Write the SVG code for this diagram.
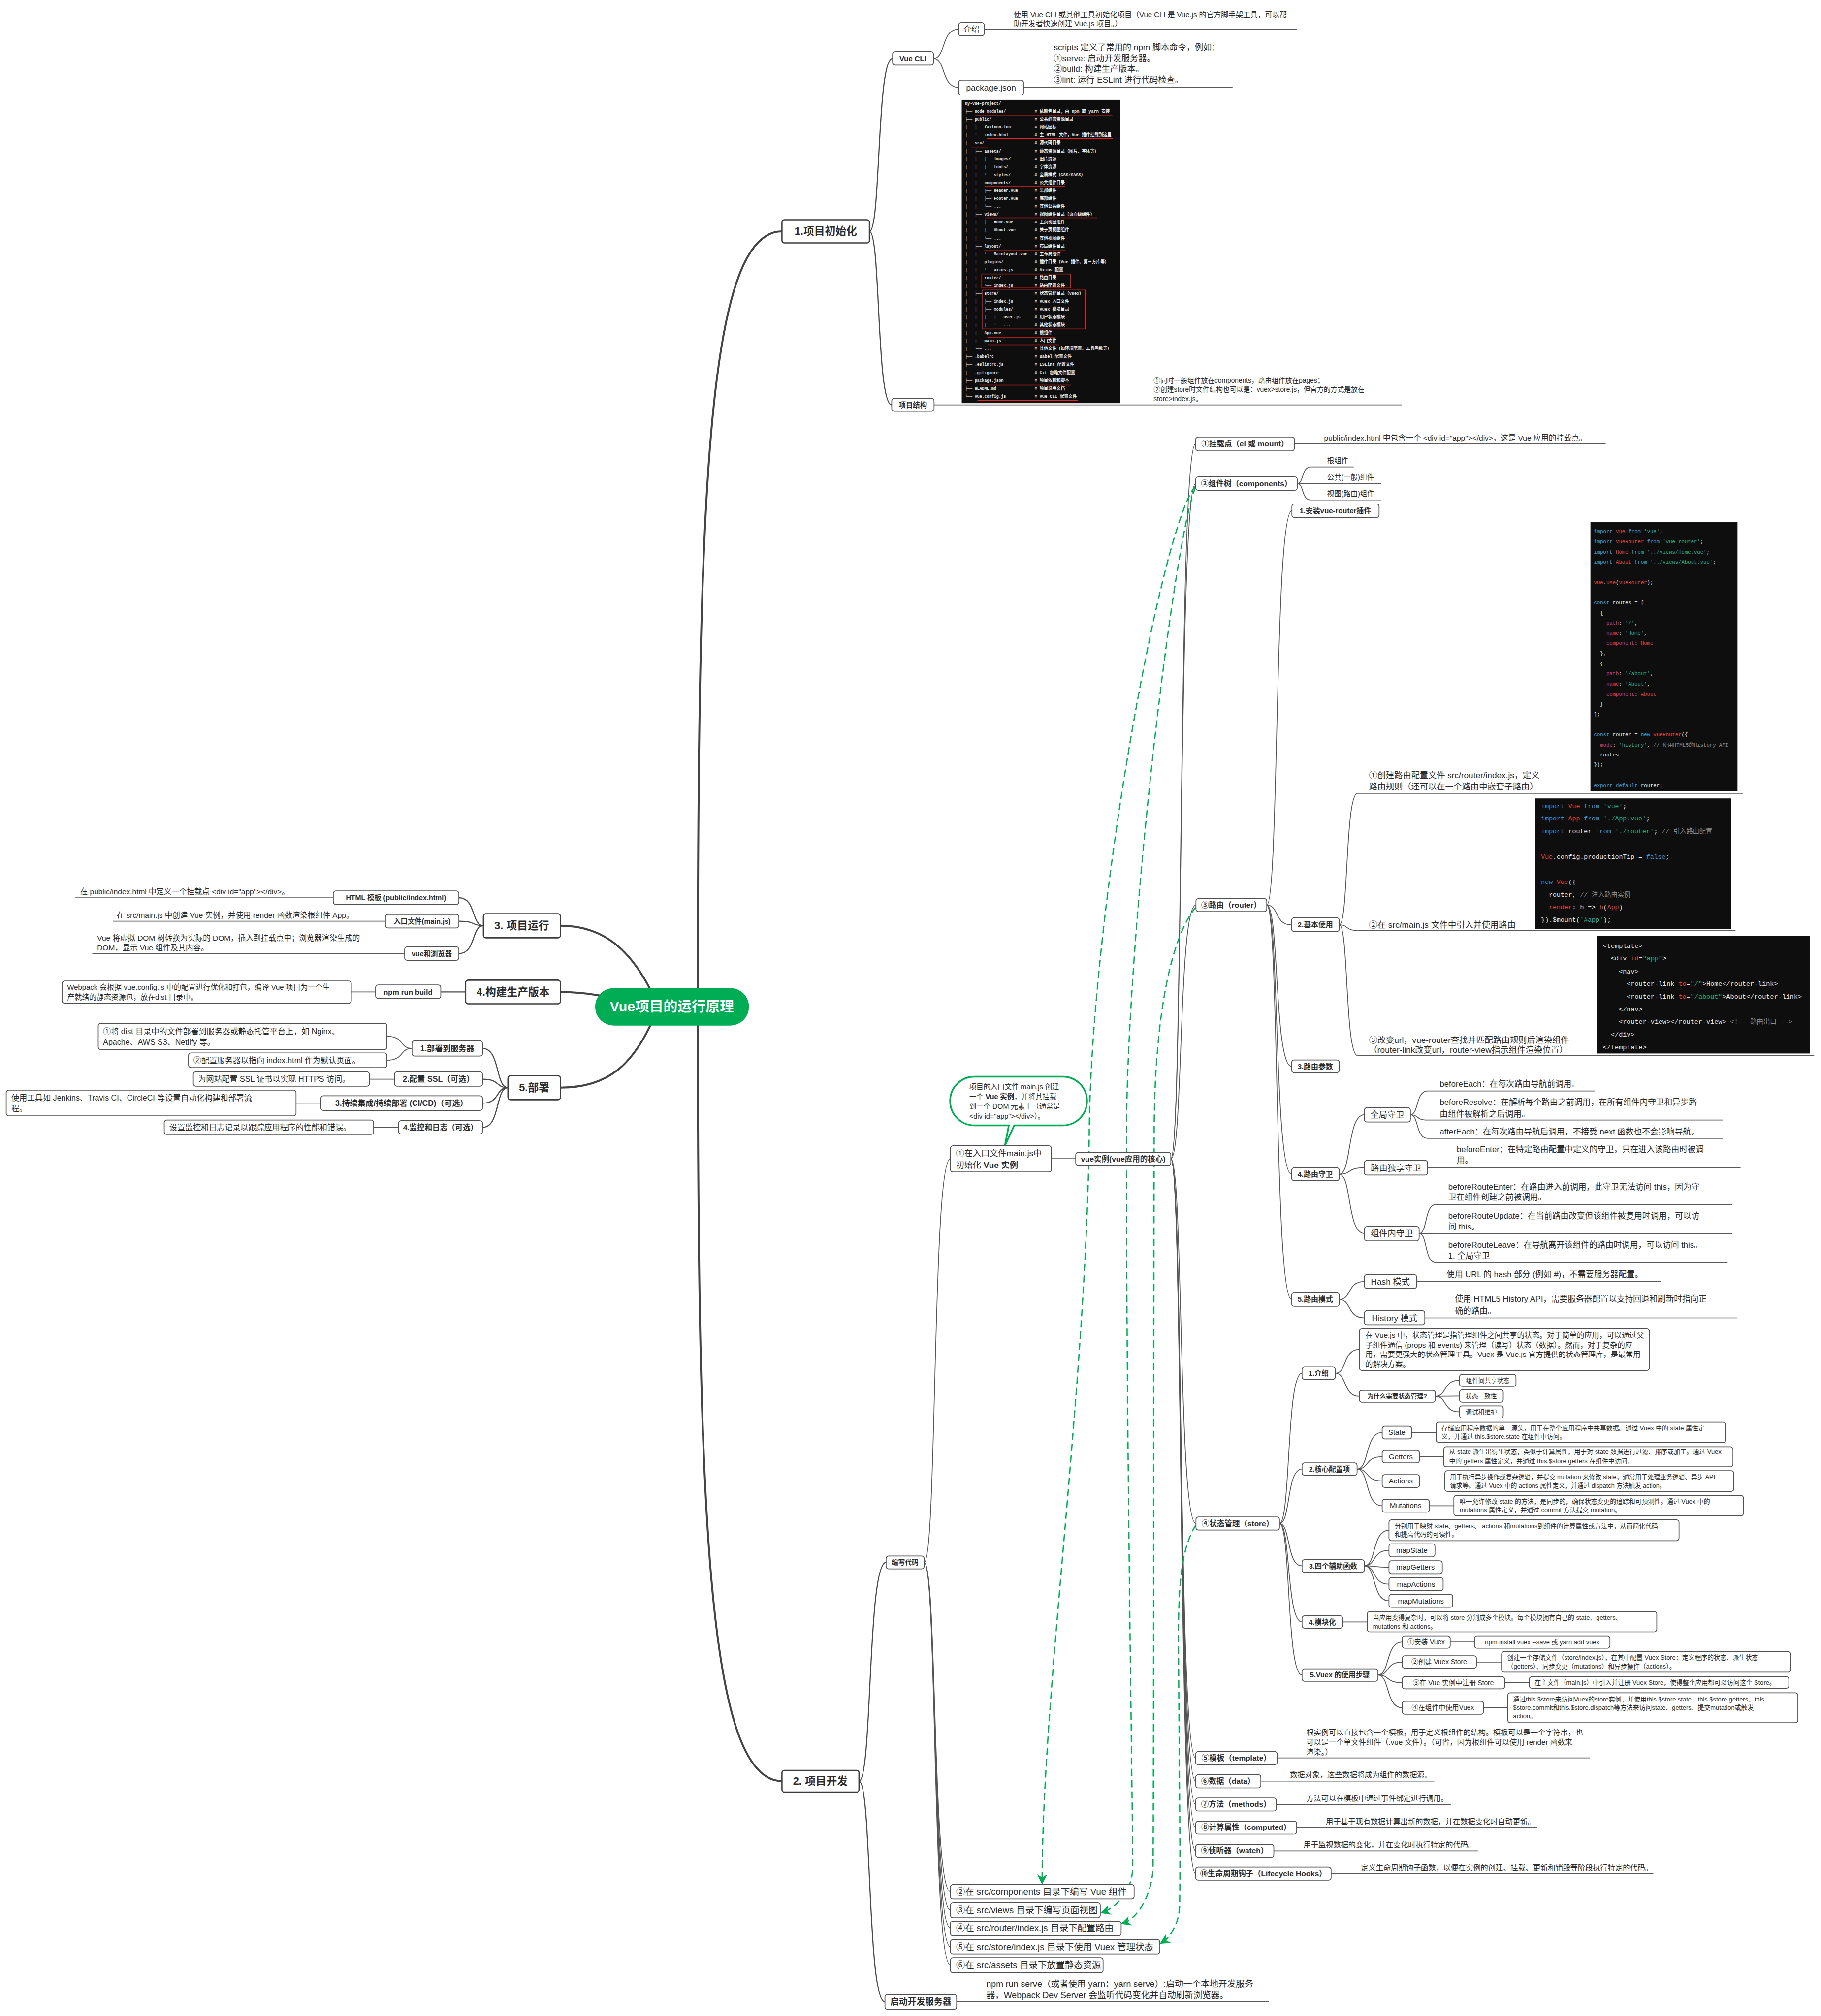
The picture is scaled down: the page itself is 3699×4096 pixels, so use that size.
<svg xmlns="http://www.w3.org/2000/svg" width="3699" height="4096" viewBox="0 0 3699 4096">
<defs>
<style>
text{font-family:"Liberation Sans","Noto Sans CJK SC",sans-serif;fill:#2b2b2b}
.b{font-weight:700}
.m{text-anchor:middle}
.bx{fill:#fff;stroke:#505050;stroke-width:3}
.bx1{fill:#fff;stroke:#3c3c3c;stroke-width:4.5}
.c1{fill:none;stroke:#444;stroke-width:7;stroke-linecap:round}
.c2{fill:none;stroke:#4a4a4a;stroke-width:4}
.c3{fill:none;stroke:#555;stroke-width:3}
.ul{fill:none;stroke:#5a5a5a;stroke-width:3}
.dg{fill:none;stroke:#00AD55;stroke-width:4.5;stroke-dasharray:26 14;marker-end:url(#arr)}
.img{fill:#0e0e0e}
.cd{font-family:"Liberation Mono","DejaVu Sans Mono","Noto Sans CJK SC",monospace;white-space:pre;fill:#e6e6e6}
.tr{font-size:14.2px;font-weight:700;fill:#e8e8e8}
.tc{font-size:15px;font-weight:700;fill:#e8e8e8}
.k{fill:#3b9ad9}.i{fill:#e5433b}.s{fill:#1fae8c}.p{fill:#dc3a72}.g{fill:#8a8a8a}.w{fill:#e6e6e6}
.red{fill:none;stroke:#e02424;stroke-width:2.5}
.f22{font-size:22px}.f225{font-size:22.5px}.f23{font-size:23px}.f24{font-size:24px}.f25{font-size:25px}.f26{font-size:26px}.f265{font-size:26.5px}.f27{font-size:27px}.f28{font-size:28px}.f29{font-size:29px}.f30{font-size:30px}.f31{font-size:31px}.f32{font-size:32px}.f38{font-size:38px}
.c18{font-size:18.5px}.c23{font-size:23px}.c235{font-size:23.5px}
</style>
<marker id="arr" viewBox="0 0 10 10" refX="8" refY="5" markerWidth="36" markerHeight="36" markerUnits="userSpaceOnUse" orient="auto"><path d="M0,0 L10,5 L0,10 L3,5 Z" fill="#00AD55"/></marker>
</defs>
<rect x="0" y="0" width="3699" height="4096" fill="#fff"/>
<g transform="scale(0.57322)">

<g id="connectors">
<path class="c1" d="M2473,3560 C2473,1800 2500,820 2771,820"/>
<path class="c1" d="M2473,3580 C2473,5300 2500,6313 2771,6313"/>
<path class="c1" d="M2330,3560 C2250,3380 2150,3281 1986,3281"/>
<path class="c1" d="M2300,3568 C2150,3530 2080,3516 1986,3516"/>
<path class="c1" d="M2330,3576 C2250,3780 2150,3855 1986,3855"/>

<path class="c2" d="M3081,820 C3122,820 3106,207 3163,207"/>
<path class="c2" d="M3081,820 C3121,820 3105,1435 3160,1435"/>
<path class="c2" d="M1713,3281 C1670,3281 1687,3182 1626,3182"/>
<path class="c2" d="M1713,3281 C1670,3281 1687,3265 1626,3265"/>
<path class="c2" d="M1713,3281 C1670,3281 1687,3380 1626,3380"/>
<path class="c2" d="M1650,3516 L1562,3516"/>
<path class="c2" d="M1800,3855 C1755,3855 1773,3716 1710,3716"/>
<path class="c2" d="M1800,3855 C1755,3855 1773,3825 1710,3825"/>
<path class="c2" d="M1800,3855 C1755,3855 1773,3910 1710,3910"/>
<path class="c2" d="M1800,3855 C1755,3855 1773,3996 1710,3996"/>
<path class="c2" d="M3044,6313 C3092,6313 3073,5538 3140,5538"/>
<path class="c2" d="M3044,6313 C3090,6313 3072,7095 3136,7095"/>

<path class="c3" d="M3308,207 C3352,207 3335,103 3397,103"/>
<path class="c3" d="M3308,207 C3352,207 3335,310 3397,310"/>
<path class="c3" d="M1331,3516 L1245,3516"/>
<path class="c3" d="M1460,3716 C1415,3716 1433,3673 1371,3673"/>
<path class="c3" d="M1460,3716 C1415,3716 1433,3758 1371,3758"/>
<path class="c3" d="M1398,3825 L1309,3825"/>
<path class="c3" d="M1137,3910 L1049,3910"/>
<path class="c3" d="M1412,3996 L1324,3996"/>

<path class="c3" d="M3275,5538 C3321,5538 3303,4107 3368,4107"/>
<path class="c3" d="M3275,5538 C3321,5538 3303,6705 3368,6705"/>
<path class="c3" d="M3275,5538 C3321,5538 3303,6770 3368,6770"/>
<path class="c3" d="M3275,5538 C3321,5538 3303,6835 3368,6835"/>
<path class="c3" d="M3275,5538 C3321,5538 3303,6900 3368,6900"/>
<path class="c3" d="M3275,5538 C3321,5538 3303,6966 3368,6966"/>
<path class="c3" d="M3726,4107 L3812,4107"/>

<path class="c3" d="M4149,4107 C4193,4107 4175,1573 4237,1573"/>
<path class="c3" d="M4149,4107 C4193,4107 4175,1714 4237,1714"/>
<path class="c3" d="M4149,4107 C4193,4107 4175,3208 4238,3208"/>
<path class="c3" d="M4149,4107 C4193,4107 4175,5400 4238,5400"/>
<path class="c3" d="M4149,4107 C4193,4107 4175,6231 4237,6231"/>
<path class="c3" d="M4149,4107 C4193,4107 4175,6313 4237,6313"/>
<path class="c3" d="M4149,4107 C4193,4107 4175,6396 4237,6396"/>
<path class="c3" d="M4149,4107 C4193,4107 4175,6478 4237,6478"/>
<path class="c3" d="M4149,4107 C4193,4107 4175,6560 4237,6560"/>
<path class="c3" d="M4149,4107 C4193,4107 4175,6641 4237,6641"/>

<path class="c3" d="M4597,1714 C4621,1714 4611,1655 4645,1655"/>
<path class="c3" d="M4597,1714 C4621,1714 4611,1772 4645,1772"/>

<path class="c3" d="M4489,3208 C4533,3208 4515,1810 4578,1810"/>
<path class="c3" d="M4489,3208 C4533,3208 4515,3278 4577,3278"/>
<path class="c3" d="M4489,3208 C4533,3208 4515,3780 4577,3780"/>
<path class="c3" d="M4489,3208 C4533,3208 4515,4162 4577,4162"/>
<path class="c3" d="M4489,3208 C4533,3208 4515,4606 4577,4606"/>

<path class="c3" d="M4746,3278 C4779,3278 4766,2812 4811,2812"/>
<path class="c3" d="M4746,3278 C4779,3278 4766,3298 4811,3298"/>
<path class="c3" d="M4746,3278 C4779,3278 4766,3741 4811,3741"/>
<path class="c3" d="M4746,4162 C4790,4162 4773,3951 4835,3951"/>
<path class="c3" d="M4746,4162 C4790,4162 4773,4139 4835,4139"/>
<path class="c3" d="M4746,4162 C4790,4162 4773,4372 4835,4372"/>
<path class="c3" d="M4998,3951 C5028,3951 5016,3867 5059,3867"/>
<path class="c3" d="M4998,3951 C5028,3951 5016,3970 5059,3970"/>
<path class="c3" d="M4998,3951 C5028,3951 5016,4035 5059,4035"/>
<path class="c3" d="M5029,4372 C5059,4372 5047,4269 5089,4269"/>
<path class="c3" d="M5029,4372 C5059,4372 5047,4372 5089,4372"/>
<path class="c3" d="M5029,4372 C5059,4372 5047,4476 5089,4476"/>
<path class="c3" d="M4746,4606 C4790,4606 4773,4542 4835,4542"/>
<path class="c3" d="M4746,4606 C4790,4606 4773,4671 4835,4671"/>

<path class="c3" d="M4534,5400 C4574,5400 4558,4867 4614,4867"/>
<path class="c3" d="M4534,5400 C4574,5400 4558,5207 4614,5207"/>
<path class="c3" d="M4534,5400 C4574,5400 4558,5550 4614,5550"/>
<path class="c3" d="M4534,5400 C4574,5400 4558,5749 4614,5749"/>
<path class="c3" d="M4534,5400 C4574,5400 4558,5937 4614,5937"/>
<path class="c3" d="M4732,4867 C4774,4867 4758,4783 4817,4783"/>
<path class="c3" d="M4732,4867 C4774,4867 4758,4949 4817,4949"/>
<path class="c3" d="M5086,4949 C5129,4949 5112,4892 5172,4892"/>
<path class="c3" d="M5086,4949 C5129,4949 5112,4948 5172,4948"/>
<path class="c3" d="M5086,4949 C5129,4949 5112,5004 5172,5004"/>
<path class="c3" d="M4809,5207 C4853,5207 4836,5077 4898,5077"/>
<path class="c3" d="M4809,5207 C4853,5207 4836,5163 4898,5163"/>
<path class="c3" d="M4809,5207 C4853,5207 4836,5249 4898,5249"/>
<path class="c3" d="M4809,5207 C4853,5207 4836,5337 4898,5337"/>
<path class="c3" d="M5002,5077 L5089,5077"/>
<path class="c3" d="M5030,5163 L5116,5163"/>
<path class="c3" d="M5031,5249 L5120,5249"/>
<path class="c3" d="M5065,5337 L5152,5337"/>
<path class="c3" d="M4835,5550 C4878,5550 4861,5424 4922,5424"/>
<path class="c3" d="M4835,5550 C4878,5550 4861,5495 4922,5495"/>
<path class="c3" d="M4835,5550 C4878,5550 4861,5555 4922,5555"/>
<path class="c3" d="M4835,5550 C4878,5550 4861,5615 4922,5615"/>
<path class="c3" d="M4835,5550 C4878,5550 4861,5674 4922,5674"/>
<path class="c3" d="M4758,5749 L4845,5749"/>
<path class="c3" d="M4883,5937 C4926,5937 4909,5820 4969,5820"/>
<path class="c3" d="M4883,5937 C4926,5937 4909,5891 4969,5891"/>
<path class="c3" d="M4883,5937 C4926,5937 4909,5964 4969,5964"/>
<path class="c3" d="M4883,5937 C4926,5937 4909,6053 4969,6053"/>
<path class="c3" d="M5139,5820 L5225,5820"/>
<path class="c3" d="M5232,5891 L5321,5891"/>
<path class="c3" d="M5332,5964 L5419,5964"/>
<path class="c3" d="M5257,6053 L5343,6053"/>

<path class="ul" d="M3488,103 H4597"/>
<path class="ul" d="M3627,310 H4368"/>
<path class="ul" d="M3310,1435 H4967"/>
<path class="ul" d="M267,3182 H1181"/>
<path class="ul" d="M400,3265 H1366"/>
<path class="ul" d="M327,3380 H1434"/>
<path class="ul" d="M3390,7094 H4497"/>
<path class="ul" d="M4587,1573 H5690"/>
<path class="ul" d="M4645,1655 H4797"/>
<path class="ul" d="M4597,1714 H4895"/>
<path class="ul" d="M4645,1772 H4895"/>
<path class="ul" d="M4811,2812 H6177"/>
<path class="ul" d="M4811,3298 H6150"/>
<path class="ul" d="M4811,3741 H6429"/>
<path class="ul" d="M5059,3867 H5651"/>
<path class="ul" d="M5059,3970 H6105"/>
<path class="ul" d="M5059,4035 H6105"/>
<path class="ul" d="M5059,4139 H6168"/>
<path class="ul" d="M5089,4269 H6138"/>
<path class="ul" d="M5089,4372 H6138"/>
<path class="ul" d="M5089,4476 H6122"/>
<path class="ul" d="M5020,4542 H5887"/>
<path class="ul" d="M5049,4671 H6156"/>
<path class="ul" d="M4526,6231 H5635"/>
<path class="ul" d="M4468,6313 H5083"/>
<path class="ul" d="M4523,6396 H5141"/>
<path class="ul" d="M4595,6478 H5447"/>
<path class="ul" d="M4514,6560 H5237"/>
<path class="ul" d="M4717,6641 H5859"/>

<path class="dg" d="M4237,1722 C4120,1850 3870,3200 3860,4000 C3852,4900 3693,6000 3693,6672"/>
<path class="dg" d="M4237,1726 C4160,1900 3995,3300 3992,4000 C3990,5000 4014,6400 4014,6620 C4012,6700 3960,6760 3906,6778"/>
<path class="dg" d="M4238,3215 C4150,3320 4092,3600 4090,4000 C4088,5000 4088,6300 4086,6620 C4082,6720 4030,6800 3978,6818"/>
<path class="dg" d="M4238,5405 C4190,5480 4176,5600 4176,5800 C4178,6200 4184,6600 4180,6760 C4176,6820 4150,6865 4116,6886"/>
</g>

<g id="node-root">
<rect x="2109" y="3502" width="545" height="133" rx="66" fill="#00AD55"/>
<text class="b m" x="2381" y="3585" style="font-size:50px;fill:#fff">Vue项目的运行原理</text>
</g>

<g id="node-init">
<rect class="bx1" x="2771" y="779" width="310" height="82" rx="9"/>
<text class="b m f38" x="2926" y="833">1.项目初始化</text>
</g>
<g id="node-vuecli">
<rect class="bx" x="3163" y="183" width="145" height="48" rx="9"/>
<text class="b m f26" x="3235" y="216">Vue CLI</text>
</g>
<g id="node-intro">
<rect class="bx" x="3397" y="80" width="91" height="47" rx="9"/>
<text class="m f28" x="3442" y="113">介绍</text>
<text class="f26" x="3592" y="61">使用 Vue CLI 或其他工具初始化项目（Vue CLI 是 Vue.js 的官方脚手架工具，可以帮</text>
<text class="f26" x="3592" y="92">助开发者快速创建 Vue.js 项目。）</text>
</g>
<g id="node-pkg">
<rect class="bx" x="3397" y="284" width="230" height="53" rx="9"/>
<text class="m f30" x="3512" y="321">package.json</text>
<text class="f30" x="3734" y="178">scripts 定义了常用的 npm 脚本命令，例如：</text>
<text class="f30" x="3734" y="217">①serve: 启动开发服务器。</text>
<text class="f30" x="3734" y="255">②build: 构建生产版本。</text>
<text class="f30" x="3734" y="293">③lint: 运行 ESLint 进行代码检查。</text>
</g>
<g id="node-structure">
<rect class="bx" x="3160" y="1412" width="150" height="46" rx="9"/>
<text class="b m f25" x="3235" y="1444">项目结构</text>
<text class="f24" x="4088" y="1357">①同时一般组件放在components，路由组件放在pages；</text>
<text class="f24" x="4088" y="1389">②创建store时文件结构也可以是：vuex&gt;store.js，但官方的方式是放在</text>
<text class="f24" x="4088" y="1421">store&gt;index.js。</text>
</g>
<g id="img-tree">
<rect class="img" x="3408" y="354" width="562" height="1075"/>
<g class="cd">
<text class="cd tr" x="3420" y="372">my-vue-project/</text>
<text class="cd tr" x="3420" y="400">├── node_modules/</text><text class="cd tc" x="3666" y="400"># 依赖包目录，由 npm 或 yarn 安装</text>
<text class="cd tr" x="3420" y="428">├── public/</text><text class="cd tc" x="3666" y="428"># 公共静态资源目录</text>
<text class="cd tr" x="3420" y="456">│   ├── favicon.ico</text><text class="cd tc" x="3666" y="456"># 网站图标</text>
<text class="cd tr" x="3420" y="484">│   └── index.html</text><text class="cd tc" x="3666" y="484"># 主 HTML 文件，Vue 插件挂载到这里</text>
<text class="cd tr" x="3420" y="512">├── src/</text><text class="cd tc" x="3666" y="512"># 源代码目录</text>
<text class="cd tr" x="3420" y="540">│   ├── assets/</text><text class="cd tc" x="3666" y="540"># 静态资源目录（图片、字体等）</text>
<text class="cd tr" x="3420" y="568">│   │   ├── images/</text><text class="cd tc" x="3666" y="568"># 图片资源</text>
<text class="cd tr" x="3420" y="596">│   │   ├── fonts/</text><text class="cd tc" x="3666" y="596"># 字体资源</text>
<text class="cd tr" x="3420" y="624">│   │   └── styles/</text><text class="cd tc" x="3666" y="624"># 全局样式（CSS/SASS）</text>
<text class="cd tr" x="3420" y="652">│   ├── components/</text><text class="cd tc" x="3666" y="652"># 公共组件目录</text>
<text class="cd tr" x="3420" y="680">│   │   ├── Header.vue</text><text class="cd tc" x="3666" y="680"># 头部组件</text>
<text class="cd tr" x="3420" y="708">│   │   ├── Footer.vue</text><text class="cd tc" x="3666" y="708"># 底部组件</text>
<text class="cd tr" x="3420" y="736">│   │   └── ...</text><text class="cd tc" x="3666" y="736"># 其他公共组件</text>
<text class="cd tr" x="3420" y="764">│   ├── views/</text><text class="cd tc" x="3666" y="764"># 视图组件目录（页面级组件）</text>
<text class="cd tr" x="3420" y="792">│   │   ├── Home.vue</text><text class="cd tc" x="3666" y="792"># 主页视图组件</text>
<text class="cd tr" x="3420" y="820">│   │   ├── About.vue</text><text class="cd tc" x="3666" y="820"># 关于页视图组件</text>
<text class="cd tr" x="3420" y="849">│   │   └── ...</text><text class="cd tc" x="3666" y="849"># 其他视图组件</text>
<text class="cd tr" x="3420" y="877">│   ├── layout/</text><text class="cd tc" x="3666" y="877"># 布局组件目录</text>
<text class="cd tr" x="3420" y="905">│   │   └── MainLayout.vue</text><text class="cd tc" x="3666" y="905"># 主布局组件</text>
<text class="cd tr" x="3420" y="933">│   ├── plugins/</text><text class="cd tc" x="3666" y="933"># 插件目录（Vue 插件、第三方库等）</text>
<text class="cd tr" x="3420" y="961">│   │   └── axios.js</text><text class="cd tc" x="3666" y="961"># Axios 配置</text>
<text class="cd tr" x="3420" y="989">│   ├── router/</text><text class="cd tc" x="3666" y="989"># 路由目录</text>
<text class="cd tr" x="3420" y="1017">│   │   └── index.js</text><text class="cd tc" x="3666" y="1017"># 路由配置文件</text>
<text class="cd tr" x="3420" y="1045">│   ├── store/</text><text class="cd tc" x="3666" y="1045"># 状态管理目录（Vuex）</text>
<text class="cd tr" x="3420" y="1073">│   │   ├── index.js</text><text class="cd tc" x="3666" y="1073"># Vuex 入口文件</text>
<text class="cd tr" x="3420" y="1101">│   │   ├── modules/</text><text class="cd tc" x="3666" y="1101"># Vuex 模块目录</text>
<text class="cd tr" x="3420" y="1129">│   │   │   ├── user.js</text><text class="cd tc" x="3666" y="1129"># 用户状态模块</text>
<text class="cd tr" x="3420" y="1157">│   │   │   └── ...</text><text class="cd tc" x="3666" y="1157"># 其他状态模块</text>
<text class="cd tr" x="3420" y="1185">│   ├── App.vue</text><text class="cd tc" x="3666" y="1185"># 根组件</text>
<text class="cd tr" x="3420" y="1213">│   ├── main.js</text><text class="cd tc" x="3666" y="1213"># 入口文件</text>
<text class="cd tr" x="3420" y="1241">│   └── ...</text><text class="cd tc" x="3666" y="1241"># 其他文件（如环境配置、工具函数等）</text>
<text class="cd tr" x="3420" y="1269">├── .babelrc</text><text class="cd tc" x="3666" y="1269"># Babel 配置文件</text>
<text class="cd tr" x="3420" y="1297">├── .eslintrc.js</text><text class="cd tc" x="3666" y="1297"># ESLint 配置文件</text>
<text class="cd tr" x="3420" y="1325">├── .gitignore</text><text class="cd tc" x="3666" y="1325"># Git 忽略文件配置</text>
<text class="cd tr" x="3420" y="1353">├── package.json</text><text class="cd tc" x="3666" y="1353"># 项目依赖和脚本</text>
<text class="cd tr" x="3420" y="1381">├── README.md</text><text class="cd tc" x="3666" y="1381"># 项目说明文档</text>
<text class="cd tr" x="3420" y="1409">└── vue.config.js</text><text class="cd tc" x="3666" y="1409"># Vue CLI 配置文件</text>
</g>
<path class="red" d="M3455,408 H3942 M3497,491 H3944 M3442,521 H3501 M3491,661 H3774 M3491,772 H3888 M3488,886 H3776 M3499,1195 H3740 M3501,1222 H3753 M3471,1365 H3796 M3464,1419 H3820"/>
<rect class="red" x="3479" y="971" width="314" height="50"/>
<rect class="red" x="3482" y="1028" width="364" height="138"/>
</g>

<g id="node-run">
<rect class="bx1" x="1713" y="3239" width="273" height="85" rx="9"/>
<text class="b m f38" x="1849" y="3294">3. 项目运行</text>
</g>
<g id="node-html">
<rect class="bx" x="1181" y="3158" width="445" height="48" rx="9"/>
<text class="b m f25" x="1403" y="3191">HTML 模板 (public/index.html)</text>
<text class="f27" x="284" y="3170">在 public/index.html 中定义一个挂载点 &lt;div id="app"&gt;&lt;/div&gt;。</text>
</g>
<g id="node-entry">
<rect class="bx" x="1366" y="3241" width="260" height="48" rx="9"/>
<text class="b m f25" x="1496" y="3274">入口文件(main.js)</text>
<text class="f27" x="413" y="3253">在 src/main.js 中创建 Vue 实例，并使用 render 函数渲染根组件 App。</text>
</g>
<g id="node-browser">
<rect class="bx" x="1434" y="3356" width="192" height="48" rx="9"/>
<text class="b m f25" x="1530" y="3389">vue和浏览器</text>
<text class="f27" x="344" y="3334">Vue 将虚拟 DOM 树转换为实际的 DOM，插入到挂载点中；浏览器渲染生成的</text>
<text class="f27" x="344" y="3369">DOM，显示 Vue 组件及其内容。</text>
</g>

<g id="node-build">
<rect class="bx1" x="1650" y="3474" width="336" height="84" rx="9"/>
<text class="b m f38" x="1818" y="3529">4.构建生产版本</text>
</g>
<g id="node-npmbuild">
<rect class="bx" x="1331" y="3491" width="231" height="48" rx="9"/>
<text class="b m f26" x="1446" y="3525">npm run build</text>
</g>
<g id="node-webpack">
<rect class="bx" x="220" y="3477" width="1025" height="79" rx="9"/>
<text class="f26" x="238" y="3509">Webpack 会根据 vue.config.js 中的配置进行优化和打包，编译 Vue 项目为一个生</text>
<text class="f26" x="238" y="3543">产就绪的静态资源包，放在dist 目录中。</text>
</g>

<g id="node-deploy">
<rect class="bx1" x="1800" y="3813" width="186" height="85" rx="9"/>
<text class="b m f38" x="1893" y="3868">5.部署</text>
</g>
<g id="node-d1">
<rect class="bx" x="1460" y="3689" width="250" height="54" rx="9"/>
<text class="b m f28" x="1585" y="3726">1.部署到服务器</text>
</g>
<g id="node-d1a">
<rect class="bx" x="348" y="3627" width="1023" height="93" rx="9"/>
<text class="f28" x="365" y="3665">①将 dist 目录中的文件部署到服务器或静态托管平台上，如 Nginx、</text>
<text class="f28" x="365" y="3704">Apache、AWS S3、Netlify 等。</text>
</g>
<g id="node-d1b">
<rect class="bx" x="668" y="3732" width="703" height="52" rx="9"/>
<text class="f28" x="685" y="3768">②配置服务器以指向 index.html 作为默认页面。</text>
</g>
<g id="node-d2">
<rect class="bx" x="1398" y="3799" width="312" height="51" rx="9"/>
<text class="b m f28" x="1554" y="3835">2.配置 SSL（可选）</text>
</g>
<g id="node-d2a">
<rect class="bx" x="685" y="3799" width="624" height="51" rx="9"/>
<text class="f28" x="702" y="3835">为网站配置 SSL 证书以实现 HTTPS 访问。</text>
</g>
<g id="node-d3">
<rect class="bx" x="1137" y="3884" width="573" height="52" rx="9"/>
<text class="b m f28" x="1423" y="3920">3.持续集成/持续部署 (CI/CD)（可选）</text>
</g>
<g id="node-d3a">
<rect class="bx" x="22" y="3864" width="1027" height="91" rx="9"/>
<text class="f28" x="40" y="3900">使用工具如 Jenkins、Travis CI、CircleCI 等设置自动化构建和部署流</text>
<text class="f28" x="40" y="3940">程。</text>
</g>
<g id="node-d4">
<rect class="bx" x="1412" y="3972" width="298" height="47" rx="9"/>
<text class="b m f27" x="1561" y="4005">4.监控和日志（可选）</text>
</g>
<g id="node-d4a">
<rect class="bx" x="582" y="3970" width="742" height="51" rx="9"/>
<text class="f28" x="600" y="4006">设置监控和日志记录以跟踪应用程序的性能和错误。</text>
</g>

<g id="node-dev">
<rect class="bx1" x="2771" y="6275" width="273" height="77" rx="9"/>
<text class="b m f38" x="2907" y="6326">2. 项目开发</text>
</g>
<g id="node-code">
<rect class="bx" x="3140" y="5515" width="135" height="46" rx="9"/>
<text class="b m f24" x="3207" y="5546">编写代码</text>
</g>
<g id="node-serve">
<rect class="bx" x="3136" y="7069" width="254" height="53" rx="9"/>
<text class="b m f31" x="3263" y="7106">启动开发服务器</text>
<text class="f31" x="3495" y="7043">npm run serve（或者使用 yarn：yarn serve）:启动一个本地开发服务</text>
<text class="f31" x="3495" y="7082">器，Webpack Dev Server 会监听代码变化并自动刷新浏览器。</text>
</g>

<g id="node-bubble">
<path d="M3453,3816 H3766 A86,86 0 0 1 3852,3902 V3903 A86,86 0 0 1 3766,3989 H3594 L3561,4061 L3575,3989 H3453 A86,86 0 0 1 3367,3903 V3902 A86,86 0 0 1 3453,3816 Z" fill="#fff" stroke="#00AD55" stroke-width="6"/>
<text class="f25" x="3435" y="3861">项目的入口文件 main.js 创建</text>
<text class="f25" x="3435" y="3896">一个 <tspan class="b">Vue 实例</tspan>，并将其挂载</text>
<text class="f25" x="3435" y="3931">到一个 DOM 元素上（通常是</text>
<text class="f25" x="3435" y="3966">&lt;div id="app"&gt;&lt;/div&gt;）。</text>
</g>
<g id="node-main">
<rect class="bx" x="3368" y="4061" width="358" height="93" rx="9"/>
<text class="f30" x="3387" y="4098">①在入口文件main.js中</text>
<text class="f30" x="3387" y="4140">初始化 <tspan class="b">Vue 实例</tspan></text>
</g>
<g id="node-instance">
<rect class="bx" x="3812" y="4084" width="337" height="47" rx="9"/>
<text class="b m f27" x="3980" y="4117">vue实例(vue应用的核心)</text>
</g>
<g id="node-s2">
<rect class="bx" x="3368" y="6679" width="651" height="52" rx="9"/>
<text class="f32" x="3388" y="6716">②在 src/components 目录下编写 Vue 组件</text>
</g>
<g id="node-s3">
<rect class="bx" x="3368" y="6744" width="531" height="53" rx="9"/>
<text class="f32" x="3388" y="6781">③在 src/views 目录下编写页面视图</text>
</g>
<g id="node-s4">
<rect class="bx" x="3368" y="6809" width="605" height="52" rx="9"/>
<text class="f32" x="3388" y="6846">④在 src/router/index.js 目录下配置路由</text>
</g>
<g id="node-s5">
<rect class="bx" x="3368" y="6874" width="742" height="53" rx="9"/>
<text class="f32" x="3388" y="6911">⑤在 src/store/index.js 目录下使用 Vuex 管理状态</text>
</g>
<g id="node-s6">
<rect class="bx" x="3368" y="6940" width="541" height="52" rx="9"/>
<text class="f32" x="3388" y="6977">⑥在 src/assets 目录下放置静态资源</text>
</g>

<g id="node-mount">
<rect class="bx" x="4237" y="1549" width="350" height="49" rx="9"/>
<text class="b m f27" x="4412" y="1583">①挂载点（el 或 mount）</text>
<text class="f27" x="4692" y="1562">public/index.html 中包含一个 &lt;div id="app"&gt;&lt;/div&gt;，这是 Vue 应用的挂载点。</text>
</g>
<g id="node-tree">
<rect class="bx" x="4237" y="1690" width="360" height="48" rx="9"/>
<text class="b m f27" x="4417" y="1723">②组件树（components）</text>
<text class="f25" x="4703" y="1642">根组件</text>
<text class="f25" x="4703" y="1701">公共(一般)组件</text>
<text class="f25" x="4703" y="1759">视图(路由)组件</text>
</g>
<g id="node-router">
<rect class="bx" x="4238" y="3185" width="251" height="46" rx="9"/>
<text class="b m f27" x="4363" y="3217">③路由（router）</text>
</g>
<g id="node-r1">
<rect class="bx" x="4578" y="1786" width="309" height="48" rx="9"/>
<text class="b m f26" x="4732" y="1819">1.安装vue-router插件</text>
</g>
<g id="node-r2">
<rect class="bx" x="4577" y="3253" width="169" height="49" rx="9"/>
<text class="b m f26" x="4661" y="3287">2.基本使用</text>
<text class="f30" x="4851" y="2759">①创建路由配置文件 src/router/index.js，定义</text>
<text class="f30" x="4851" y="2798">路由规则（还可以在一个路由中嵌套子路由）</text>
<text class="f30" x="4851" y="3288">②在 src/main.js 文件中引入并使用路由</text>
<text class="f30" x="4851" y="3697">③改变url，vue-router查找并匹配路由规则后渲染组件</text>
<text class="f30" x="4851" y="3731">（router-link改变url，router-view指示组件渲染位置）</text>
</g>
<g id="img-router">
<rect class="img" x="5636" y="1851" width="521" height="954"/>
<text class="cd c18" x="5648" y="1890"><tspan class="k">import</tspan> <tspan class="i">Vue</tspan> <tspan class="k">from</tspan> <tspan class="s">'vue'</tspan>;</text>
<text class="cd c18" x="5648" y="1926"><tspan class="k">import</tspan> <tspan class="i">VueRouter</tspan> <tspan class="k">from</tspan> <tspan class="s">'vue-router'</tspan>;</text>
<text class="cd c18" x="5648" y="1962"><tspan class="k">import</tspan> <tspan class="i">Home</tspan> <tspan class="k">from</tspan> <tspan class="s">'../views/Home.vue'</tspan>;</text>
<text class="cd c18" x="5648" y="1998"><tspan class="k">import</tspan> <tspan class="i">About</tspan> <tspan class="k">from</tspan> <tspan class="s">'../views/About.vue'</tspan>;</text>
<text class="cd c18" x="5648" y="2070"><tspan class="i">Vue</tspan>.<tspan class="i">use</tspan>(<tspan class="i">VueRouter</tspan>);</text>
<text class="cd c18" x="5648" y="2143"><tspan class="k">const</tspan> routes = [</text>
<text class="cd c18" x="5648" y="2179">  {</text>
<text class="cd c18" x="5648" y="2214">    <tspan class="p">path</tspan>: <tspan class="s">'/'</tspan>,</text>
<text class="cd c18" x="5648" y="2250">    <tspan class="p">name</tspan>: <tspan class="s">'Home'</tspan>,</text>
<text class="cd c18" x="5648" y="2285">    <tspan class="p">component</tspan>: <tspan class="i">Home</tspan></text>
<text class="cd c18" x="5648" y="2322">  },</text>
<text class="cd c18" x="5648" y="2359">  {</text>
<text class="cd c18" x="5648" y="2394">    <tspan class="p">path</tspan>: <tspan class="s">'/about'</tspan>,</text>
<text class="cd c18" x="5648" y="2430">    <tspan class="p">name</tspan>: <tspan class="s">'About'</tspan>,</text>
<text class="cd c18" x="5648" y="2466">    <tspan class="p">component</tspan>: <tspan class="i">About</tspan></text>
<text class="cd c18" x="5648" y="2502">  }</text>
<text class="cd c18" x="5648" y="2538">];</text>
<text class="cd c18" x="5648" y="2609"><tspan class="k">const</tspan> router = <tspan class="k">new</tspan> <tspan class="i">VueRouter</tspan>({</text>
<text class="cd c18" x="5648" y="2646">  <tspan class="p">mode</tspan>: <tspan class="s">'history'</tspan>, <tspan class="g">// 使用HTML5的History API</tspan></text>
<text class="cd c18" x="5648" y="2681">  routes</text>
<text class="cd c18" x="5648" y="2717">});</text>
<text class="cd c18" x="5648" y="2789"><tspan class="k">export</tspan> <tspan class="k">default</tspan> router;</text>
</g>
<g id="img-main">
<rect class="img" x="5441" y="2830" width="693" height="463"/>
<text class="cd c23" x="5461" y="2865"><tspan class="k">import</tspan> <tspan class="i">Vue</tspan> <tspan class="k">from</tspan> <tspan class="s">'vue'</tspan>;</text>
<text class="cd c23" x="5461" y="2909"><tspan class="k">import</tspan> <tspan class="i">App</tspan> <tspan class="k">from</tspan> <tspan class="s">'./App.vue'</tspan>;</text>
<text class="cd c23" x="5461" y="2953"><tspan class="k">import</tspan> router <tspan class="k">from</tspan> <tspan class="s">'./router'</tspan>; <tspan class="g">// 引入路由配置</tspan></text>
<text class="cd c23" x="5461" y="3044"><tspan class="i">Vue</tspan>.config.productionTip = <tspan class="k">false</tspan>;</text>
<text class="cd c23" x="5461" y="3134"><tspan class="k">new</tspan> <tspan class="i">Vue</tspan>({</text>
<text class="cd c23" x="5461" y="3178">  router, <tspan class="g">// 注入路由实例</tspan></text>
<text class="cd c23" x="5461" y="3223">  <tspan class="i">render</tspan>: h =&gt; <tspan class="i">h</tspan>(<tspan class="i">App</tspan>)</text>
<text class="cd c23" x="5461" y="3268">}).$mount(<tspan class="s">'#app'</tspan>);</text>
</g>
<g id="img-template">
<rect class="img" x="5659" y="3317" width="754" height="417"/>
<text class="cd c235" x="5680" y="3360">&lt;template&gt;</text>
<text class="cd c235" x="5680" y="3404">  &lt;div <tspan class="i">id</tspan>=<tspan class="s">"app"</tspan>&gt;</text>
<text class="cd c235" x="5680" y="3450">    &lt;nav&gt;</text>
<text class="cd c235" x="5680" y="3494">      &lt;router-link <tspan class="i">to</tspan>=<tspan class="s">"/"</tspan>&gt;Home&lt;/router-link&gt;</text>
<text class="cd c235" x="5680" y="3540">      &lt;router-link <tspan class="i">to</tspan>=<tspan class="s">"/about"</tspan>&gt;About&lt;/router-link&gt;</text>
<text class="cd c235" x="5680" y="3585">    &lt;/nav&gt;</text>
<text class="cd c235" x="5680" y="3629">    &lt;router-view&gt;&lt;/router-view&gt; <tspan class="g">&lt;!-- 路由出口 --&gt;</tspan></text>
<text class="cd c235" x="5680" y="3674">  &lt;/div&gt;</text>
<text class="cd c235" x="5680" y="3720">&lt;/template&gt;</text>
</g>
<g id="node-r3">
<rect class="bx" x="4577" y="3757" width="169" height="45" rx="9"/>
<text class="b m f26" x="4661" y="3789">3.路由参数</text>
</g>
<g id="node-r4">
<rect class="bx" x="4577" y="4139" width="169" height="46" rx="9"/>
<text class="b m f26" x="4661" y="4171">4.路由守卫</text>
</g>
<g id="node-g1">
<rect class="bx" x="4835" y="3926" width="163" height="51" rx="9"/>
<text class="m f30" x="4916" y="3962">全局守卫</text>
<text class="f29" x="5102" y="3852">beforeEach：在每次路由导航前调用。</text>
<text class="f29" x="5102" y="3917">beforeResolve：在解析每个路由之前调用，在所有组件内守卫和异步路</text>
<text class="f29" x="5102" y="3958">由组件被解析之后调用。</text>
<text class="f29" x="5102" y="4022">afterEach：在每次路由导航后调用，不接受 next 函数也不会影响导航。</text>
</g>
<g id="node-g2">
<rect class="bx" x="4835" y="4113" width="224" height="52" rx="9"/>
<text class="m f30" x="4947" y="4150">路由独享守卫</text>
<text class="f29" x="5162" y="4084">beforeEnter：在特定路由配置中定义的守卫，只在进入该路由时被调</text>
<text class="f29" x="5162" y="4122">用。</text>
</g>
<g id="node-g3">
<rect class="bx" x="4835" y="4347" width="194" height="51" rx="9"/>
<text class="m f30" x="4932" y="4383">组件内守卫</text>
<text class="f29" x="5132" y="4216">beforeRouteEnter：在路由进入前调用，此守卫无法访问 this，因为守</text>
<text class="f29" x="5132" y="4254">卫在组件创建之前被调用。</text>
<text class="f29" x="5132" y="4319">beforeRouteUpdate：在当前路由改变但该组件被复用时调用，可以访</text>
<text class="f29" x="5132" y="4357">问 this。</text>
<text class="f29" x="5132" y="4423">beforeRouteLeave：在导航离开该组件的路由时调用，可以访问 this。</text>
<text class="f29" x="5132" y="4461">1. 全局守卫</text>
</g>
<g id="node-r5">
<rect class="bx" x="4577" y="4582" width="169" height="48" rx="9"/>
<text class="b m f26" x="4661" y="4615">5.路由模式</text>
</g>
<g id="node-hash">
<rect class="bx" x="4835" y="4517" width="185" height="50" rx="9"/>
<text class="m f30" x="4927" y="4553">Hash 模式</text>
<text class="f29" x="5126" y="4527">使用 URL 的 hash 部分 (例如 #)，不需要服务器配置。</text>
</g>
<g id="node-history">
<rect class="bx" x="4835" y="4645" width="214" height="52" rx="9"/>
<text class="m f30" x="4942" y="4682">History 模式</text>
<text class="f29" x="5156" y="4615">使用 HTML5 History API，需要服务器配置以支持回退和刷新时指向正</text>
<text class="f29" x="5156" y="4656">确的路由。</text>
</g>

<g id="node-store">
<rect class="bx" x="4238" y="5377" width="296" height="46" rx="9"/>
<text class="b m f27" x="4386" y="5409">④状态管理（store）</text>
</g>
<g id="node-v1">
<rect class="bx" x="4614" y="4845" width="118" height="44" rx="9"/>
<text class="b m f25" x="4673" y="4876">1.介绍</text>
</g>
<g id="node-v1a">
<rect class="bx" x="4817" y="4710" width="1028" height="147" rx="9"/>
<text class="f265" x="4838" y="4742">在 Vue.js 中，状态管理是指管理组件之间共享的状态。对于简单的应用，可以通过父</text>
<text class="f265" x="4838" y="4776">子组件通信 (props 和 events) 来管理（读写）状态（数据）。然而，对于复杂的应</text>
<text class="f265" x="4838" y="4810">用，需要更强大的状态管理工具。Vuex 是 Vue.js 官方提供的状态管理库，是最常用</text>
<text class="f265" x="4838" y="4845">的解决方案。</text>
</g>
<g id="node-v1b">
<rect class="bx" x="4817" y="4928" width="269" height="42" rx="9"/>
<text class="b m f22" x="4951" y="4957">为什么需要状态管理?</text>
</g>
<g id="node-v1b1">
<rect class="bx" x="5172" y="4871" width="200" height="43" rx="9"/>
<text class="m f22" x="5272" y="4900">组件间共享状态</text>
</g>
<g id="node-v1b2">
<rect class="bx" x="5172" y="4926" width="155" height="44" rx="9"/>
<text class="m f22" x="5249" y="4956">状态一致性</text>
</g>
<g id="node-v1b3">
<rect class="bx" x="5172" y="4983" width="155" height="43" rx="9"/>
<text class="m f22" x="5249" y="5012">调试和维护</text>
</g>
<g id="node-v2">
<rect class="bx" x="4614" y="5185" width="195" height="44" rx="9"/>
<text class="b m f25" x="4711" y="5216">2.核心配置项</text>
</g>
<g id="node-state">
<rect class="bx" x="4898" y="5055" width="104" height="45" rx="9"/>
<text class="m f26" x="4950" y="5086">State</text>
<rect class="bx" x="5089" y="5041" width="1027" height="71" rx="9"/>
<text class="f225" x="5108" y="5069">存储应用程序数据的单一源头，用于在整个应用程序中共享数据。通过 Vuex 中的 state 属性定</text>
<text class="f225" x="5108" y="5099">义，并通过 this.$store.state 在组件中访问。</text>
</g>
<g id="node-getters">
<rect class="bx" x="4898" y="5141" width="132" height="44" rx="9"/>
<text class="m f26" x="4964" y="5172">Getters</text>
<rect class="bx" x="5116" y="5128" width="1025" height="71" rx="9"/>
<text class="f225" x="5135" y="5154">从 state 派生出衍生状态，类似于计算属性，用于对 state 数据进行过滤、排序或加工。通过 Vuex</text>
<text class="f225" x="5135" y="5186">中的 getters 属性定义，并通过 this.$store.getters 在组件中访问。</text>
</g>
<g id="node-actions">
<rect class="bx" x="4898" y="5227" width="133" height="45" rx="9"/>
<text class="m f26" x="4964" y="5258">Actions</text>
<rect class="bx" x="5120" y="5213" width="1024" height="73" rx="9"/>
<text class="f22" x="5138" y="5243">用于执行异步操作或复杂逻辑，并提交 mutation 来修改 state，通常用于处理业务逻辑、异步 API</text>
<text class="f22" x="5138" y="5273">请求等。通过 Vuex 中的 actions 属性定义，并通过 dispatch 方法触发 action。</text>
</g>
<g id="node-mutations">
<rect class="bx" x="4898" y="5314" width="167" height="46" rx="9"/>
<text class="m f26" x="4981" y="5346">Mutations</text>
<rect class="bx" x="5152" y="5300" width="1026" height="73" rx="9"/>
<text class="f225" x="5172" y="5329">唯一允许修改 state 的方法，是同步的，确保状态变更的追踪和可预测性。通过 Vuex 中的</text>
<text class="f225" x="5172" y="5360">mutations 属性定义，并通过 commit 方法提交 mutation。</text>
</g>
<g id="node-v3">
<rect class="bx" x="4614" y="5528" width="221" height="45" rx="9"/>
<text class="b m f25" x="4724" y="5559">3.四个辅助函数</text>
<rect class="bx" x="4922" y="5387" width="1028" height="74" rx="9"/>
<text class="f225" x="4942" y="5416">分别用于映射 state、getters、 actions 和mutations到组件的计算属性或方法中，从而简化代码</text>
<text class="f225" x="4942" y="5447">和提高代码的可读性。</text>
</g>
<g id="node-mapstate"><rect class="bx" x="4922" y="5472" width="163" height="46" rx="9"/><text class="m f26" x="5003" y="5504">mapState</text></g>
<g id="node-mapgetters"><rect class="bx" x="4922" y="5532" width="189" height="46" rx="9"/><text class="m f26" x="5016" y="5564">mapGetters</text></g>
<g id="node-mapactions"><rect class="bx" x="4922" y="5592" width="192" height="46" rx="9"/><text class="m f26" x="5018" y="5624">mapActions</text></g>
<g id="node-mapmutations"><rect class="bx" x="4922" y="5651" width="226" height="46" rx="9"/><text class="m f26" x="5035" y="5683">mapMutations</text></g>
<g id="node-v4">
<rect class="bx" x="4614" y="5727" width="144" height="44" rx="9"/>
<text class="b m f25" x="4686" y="5758">4.模块化</text>
<rect class="bx" x="4845" y="5712" width="1026" height="72" rx="9"/>
<text class="f225" x="4865" y="5741">当应用变得复杂时，可以将 store 分割成多个模块。每个模块拥有自己的 state、getters、</text>
<text class="f225" x="4865" y="5772">mutations 和 actions。</text>
</g>
<g id="node-v5">
<rect class="bx" x="4614" y="5915" width="269" height="44" rx="9"/>
<text class="b m f25" x="4748" y="5946">5.Vuex 的使用步骤</text>
</g>
<g id="node-v51">
<rect class="bx" x="4969" y="5798" width="170" height="44" rx="9"/>
<text class="m f24" x="5054" y="5828">①安装 Vuex</text>
<rect class="bx" x="5225" y="5798" width="480" height="44" rx="9"/>
<text class="m f225" x="5465" y="5828">npm install vuex --save 或 yarn add vuex</text>
</g>
<g id="node-v52">
<rect class="bx" x="4969" y="5869" width="263" height="44" rx="9"/>
<text class="m f24" x="5100" y="5899">②创建 Vuex Store</text>
<rect class="bx" x="5321" y="5854" width="1025" height="73" rx="9"/>
<text class="f225" x="5341" y="5883">创建一个存储文件（store/index.js），在其中配置 Vuex Store：定义程序的状态、派生状态</text>
<text class="f225" x="5341" y="5914">（getters）、同步变更（mutations）和异步操作（actions）。</text>
</g>
<g id="node-v53">
<rect class="bx" x="4969" y="5943" width="363" height="43" rx="9"/>
<text class="m f24" x="5150" y="5973">③在 Vue 实例中注册 Store</text>
<rect class="bx" x="5419" y="5943" width="920" height="41" rx="9"/>
<text class="f225" x="5438" y="5972">在主文件（main.js）中引入并注册 Vuex Store，使得整个应用都可以访问这个 Store。</text>
</g>
<g id="node-v54">
<rect class="bx" x="4969" y="6030" width="288" height="46" rx="9"/>
<text class="m f24" x="5113" y="6061">④在组件中使用Vuex</text>
<rect class="bx" x="5343" y="6000" width="1028" height="106" rx="9"/>
<text class="f225" x="5362" y="6031">通过this.$store来访问Vuex的store实例，并使用this.$store.state、this.$store.getters、this.</text>
<text class="f225" x="5362" y="6061">$store.commit和this.$store.dispatch等方法来访问state、getters、提交mutation或触发</text>
<text class="f225" x="5362" y="6091">action。</text>
</g>

<g id="node-template">
<rect class="bx" x="4237" y="6208" width="289" height="47" rx="9"/>
<text class="b m f27" x="4381" y="6240">⑤模板（template）</text>
<text class="f265" x="4629" y="6150">根实例可以直接包含一个模板，用于定义根组件的结构。模板可以是一个字符串，也</text>
<text class="f265" x="4629" y="6184">可以是一个单文件组件（.vue 文件）。（可省，因为根组件可以使用 render 函数来</text>
<text class="f265" x="4629" y="6219">渲染。）</text>
</g>
<g id="node-data">
<rect class="bx" x="4237" y="6290" width="231" height="47" rx="9"/>
<text class="b m f27" x="4352" y="6322">⑥数据（data）</text>
<text class="f265" x="4571" y="6300">数据对象，这些数据将成为组件的数据源。</text>
</g>
<g id="node-methods">
<rect class="bx" x="4237" y="6373" width="286" height="46" rx="9"/>
<text class="b m f27" x="4380" y="6405">⑦方法（methods）</text>
<text class="f265" x="4629" y="6383">方法可以在模板中通过事件绑定进行调用。</text>
</g>
<g id="node-computed">
<rect class="bx" x="4237" y="6455" width="358" height="46" rx="9"/>
<text class="b m f27" x="4416" y="6487">⑧计算属性（computed）</text>
<text class="f265" x="4698" y="6465">用于基于现有数据计算出新的数据，并在数据变化时自动更新。</text>
</g>
<g id="node-watch">
<rect class="bx" x="4237" y="6537" width="277" height="46" rx="9"/>
<text class="b m f27" x="4375" y="6569">⑨侦听器（watch）</text>
<text class="f265" x="4619" y="6548">用于监视数据的变化，并在变化时执行特定的代码。</text>
</g>
<g id="node-hooks">
<rect class="bx" x="4237" y="6618" width="480" height="46" rx="9"/>
<text class="b m f27" x="4477" y="6650">⑩生命周期钩子（Lifecycle Hooks）</text>
<text class="f265" x="4823" y="6629">定义生命周期钩子函数，以便在实例的创建、挂载、更新和销毁等阶段执行特定的代码。</text>
</g>

</g>
</svg>
